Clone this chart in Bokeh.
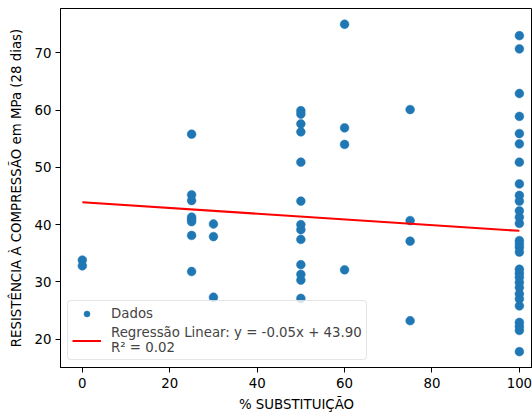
from bokeh.plotting import figure
from bokeh.models import Range1d, Legend, LegendItem
from bokeh.embed import file_html
from bokeh.resources import INLINE

# ---- data ----
x_0 = [0, 0]
y_0 = [33.8, 32.8]
x_25 = [25] * 8
y_25 = [55.8, 45.2, 44.2, 41.3, 40.9, 40.5, 38.1, 31.8]
x_30 = [30] * 3
y_30 = [40.1, 37.9, 27.3]
x_50 = [50] * 13
y_50 = [59.9, 59.3, 57.6, 56.2, 50.9, 44.1, 40.0, 39.1, 37.4, 33.0, 31.3, 30.3, 27.1]
x_60 = [60] * 4
y_60 = [75.0, 56.9, 54.0, 32.1]
x_75 = [75] * 4
y_75 = [60.1, 40.7, 37.1, 23.2]
y_100 = [73.0, 70.7, 62.9, 58.9, 55.9, 54.1, 50.9, 47.1, 45.1, 44.1, 42.4, 41.3,
         40.2, 37.2, 36.6, 36.0, 35.2, 32.2, 31.5, 30.8, 29.9, 29.0, 27.9, 27.0,
         25.8, 22.9, 22.2, 21.5, 17.8]
x_100 = [100] * len(y_100)

slope = -0.05
intercept = 43.90
r2 = 0.02
x_line = [0, 100]

x_ticks = [0, 20, 40, 60, 80, 100]
y_ticks = [20, 30, 40, 50, 60, 70]

substituicao = x_0 + x_25 + x_30 + x_50 + x_60 + x_75 + x_100
resistencia = y_0 + y_25 + y_30 + y_50 + y_60 + y_75 + y_100
y_line = [intercept + slope * v for v in x_line]

FONT = "DejaVu Sans"
FS = "13.33px"

p = figure(frame_width=472, frame_height=359,
           output_backend="svg", toolbar_location=None,
           x_range=Range1d(-5, 103.0), y_range=Range1d(15.03, 77.75),
           min_border_left=60, min_border_right=0, min_border_top=8,
           min_border_bottom=45)

p.xgrid.visible = False
p.ygrid.visible = False
p.outline_line_color = "black"
p.outline_line_width = 1
p.background_fill_color = "white"
p.border_fill_color = "white"

r_pts = p.scatter(substituicao, resistencia, size=8.8, fill_color="#1f77b4",
                  line_color="#1f77b4", line_width=0.5)
r_line = p.line(x_line, y_line, line_color="red", line_width=2)

for ax, ticks in ((p.xaxis, x_ticks), (p.yaxis, y_ticks)):
    ax.ticker = ticks
    ax.major_tick_out = 5
    ax.major_tick_in = 0
    ax.minor_tick_line_color = None
    ax.axis_line_color = "black"
    ax.major_tick_line_color = "black"
    ax.major_label_text_font = FONT
    ax.major_label_text_font_size = FS
    ax.major_label_text_color = "black"
    ax.axis_label_text_font = FONT
    ax.axis_label_text_font_size = FS
    ax.axis_label_text_font_style = "normal"
    ax.axis_label_text_color = "black"

p.xaxis.axis_label = "% SUBSTITUIÇÃO"
p.yaxis.axis_label = "RESISTÊNCIA À COMPRESSÃO em MPa (28 dias)"
p.xaxis.major_label_standoff = 5
p.xaxis.axis_label_standoff = 6
p.yaxis.major_label_standoff = 4
p.yaxis.axis_label_standoff = 8

label_reg = f"Regressão Linear: y = {slope:.2f}x + {intercept:.2f}\nR² = {r2:.2f}"
legend = Legend(items=[LegendItem(label="Dados", renderers=[r_pts]),
                       LegendItem(label=label_reg, renderers=[r_line])],
                location=(7, 7))
legend.label_text_font = FONT
legend.label_text_font_size = FS
legend.label_text_line_height = 1.15
legend.label_height = 16
legend.glyph_width = 29
legend.glyph_height = 15
legend.label_standoff = 10
legend.padding = 4
legend.spacing = 4
legend.margin = 0
legend.border_line_color = "#cccccc"
legend.border_line_width = 1
legend.background_fill_alpha = 0.8
try:
    legend.border_radius = 4
except Exception:
    pass
p.add_layout(legend)

open("out.html", "w").write(file_html(p, INLINE))
